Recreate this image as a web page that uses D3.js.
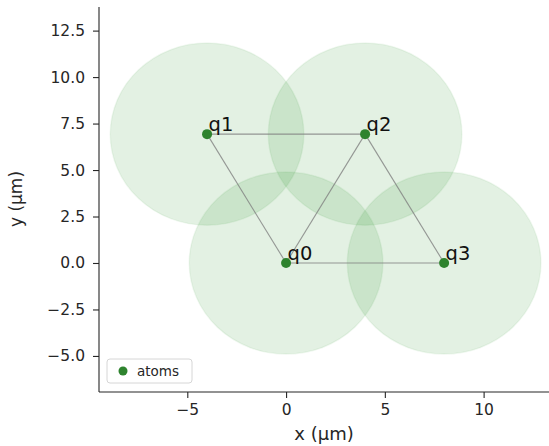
<!DOCTYPE html>
<html>
<head>
<meta charset="utf-8">
<script src="https://cdn.jsdelivr.net/npm/d3@7"></script>
<style>
  body { margin: 0; background: #fff; }
  svg { display: block; font-family: "DejaVu Sans", sans-serif; }
</style>
</head>
<body>
<svg id="chart" width="549" height="446"></svg>
<script>
// Atom register: names and positions in µm
const atomNames = ["q0", "q1", "q2", "q3"];
const atomX = [0, -4, 4, 8];
const atomY = [0, 6.93, 6.93, 0];
// Blockade radius drawn around each atom (µm)
const blockadeRadius = 4.9;
// Pairs of atoms within the blockade distance
const edges = [[0, 1], [0, 2], [1, 2], [2, 3], [0, 3]];
// Axis ticks
const xTicks = [-5, 0, 5, 10];
const yTicks = [-5, -2.5, 0, 2.5, 5, 7.5, 10, 12.5];

(function draw() {
  const svg = d3.select("#chart");
  const plotLeft = 99, plotRight = 549, plotTop = 7, plotBottom = 392;

  const x = d3.scaleLinear().domain([-9.47, 13.31]).range([plotLeft, plotRight]);
  const y = d3.scaleLinear().domain([-6.94, 13.77]).range([plotBottom, plotTop]);

  const green = "#008000";
  const dotColor = "#2e832e";
  const ink = "#262626";

  // Blockade discs
  const discs = svg.append("g");
  atomNames.forEach((n, i) => {
    const rx = Math.abs(x(blockadeRadius) - x(0));
    const ry = Math.abs(y(blockadeRadius) - y(0));
    discs.append("ellipse")
      .attr("cx", x(atomX[i])).attr("cy", y(atomY[i]))
      .attr("rx", rx).attr("ry", ry)
      .attr("fill", green).attr("fill-opacity", 0.11)
      .attr("stroke", green).attr("stroke-opacity", 0.06).attr("stroke-width", 1.5);
  });

  // Connections
  svg.append("g").selectAll("line").data(edges).join("line")
    .attr("x1", d => x(atomX[d[0]])).attr("y1", d => y(atomY[d[0]]))
    .attr("x2", d => x(atomX[d[1]])).attr("y2", d => y(atomY[d[1]]))
    .attr("stroke", "#808080").attr("stroke-opacity", 0.8).attr("stroke-width", 1.1);

  // Atoms
  svg.append("g").selectAll("circle").data(atomNames).join("circle")
    .attr("cx", (d, i) => x(atomX[i])).attr("cy", (d, i) => y(atomY[i]))
    .attr("r", 5).attr("fill", dotColor);

  // Atom labels
  svg.append("g").selectAll("text").data(atomNames).join("text")
    .attr("x", (d, i) => x(atomX[i]) + 1.5)
    .attr("y", (d, i) => y(atomY[i]) - 3)
    .attr("font-size", 19.5).attr("fill", "#111")
    .text(d => d);

  // Axes
  const xAxis = svg.append("g").attr("transform", `translate(0,${plotBottom})`)
    .call(d3.axisBottom(x).tickValues(xTicks).tickSize(6).tickPadding(6)
      .tickFormat(d => d < 0 ? "\u2212" + Math.abs(d) : d));
  const yAxis = svg.append("g").attr("transform", `translate(${plotLeft},0)`)
    .call(d3.axisLeft(y).tickValues(yTicks).tickSize(6).tickPadding(8)
      .tickFormat(d => (d < 0 ? "\u2212" : "") + Math.abs(d).toFixed(1)));
  [xAxis, yAxis].forEach(a => {
    a.selectAll("path").attr("stroke", ink).attr("stroke-width", 1.1);
    a.selectAll("line").attr("stroke", ink).attr("stroke-width", 1.1);
    a.selectAll("text").attr("font-size", 15.5).attr("fill", ink)
      .attr("font-family", "DejaVu Sans, sans-serif");
  });
  // Plain spines without end stubs
  xAxis.select(".domain").attr("d", `M${plotLeft},0H${plotRight}`);
  yAxis.select(".domain").attr("d", `M0,${plotTop}V${plotBottom}`);

  // Axis titles
  svg.append("text").attr("x", (plotLeft + plotRight) / 2).attr("y", 440)
    .attr("text-anchor", "middle").attr("font-size", 18).attr("fill", ink)
    .text("x (\u00b5m)");
  svg.append("text").attr("transform", `translate(22,${199}) rotate(-90)`)
    .attr("text-anchor", "middle").attr("font-size", 17).attr("fill", ink)
    .text("y (\u00b5m)");

  // Legend
  const lg = svg.append("g");
  lg.append("rect").attr("x", 107).attr("y", 359).attr("width", 85).attr("height", 24)
    .attr("rx", 3).attr("fill", "#fff").attr("fill-opacity", 0.8)
    .attr("stroke", "#d6d6d6");
  lg.append("circle").attr("cx", 123).attr("cy", 371).attr("r", 4.5).attr("fill", dotColor);
  lg.append("text").attr("x", 137).attr("y", 376).attr("font-size", 13.5).attr("fill", ink)
    .text("atoms");
})();
</script>
</body>
</html>
